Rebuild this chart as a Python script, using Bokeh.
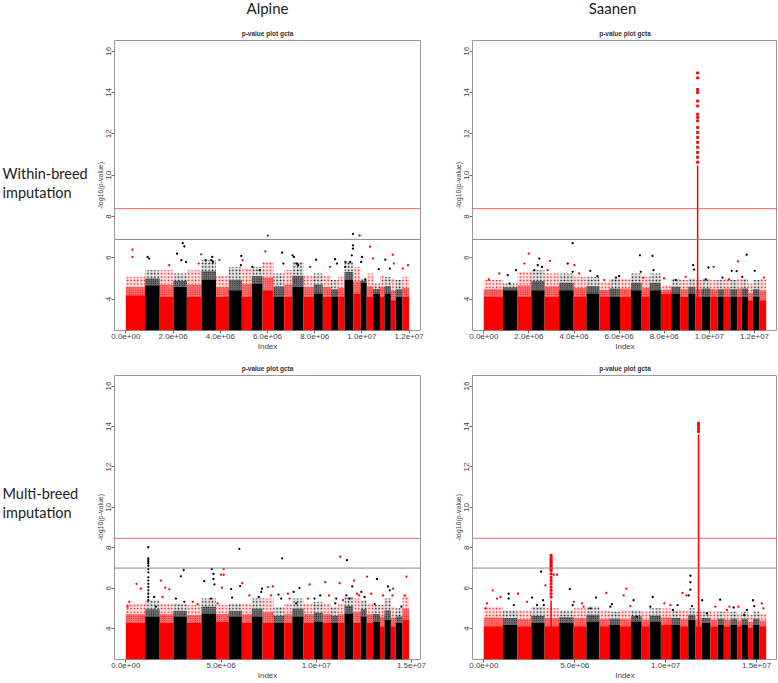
import numpy as np
from bokeh.plotting import figure
from bokeh.models import Range1d, FixedTicker, Span, Label, ColumnDataSource
from bokeh.layouts import column, row
from bokeh.embed import file_html
from bokeh.resources import INLINE

# ---------------- data ----------------
# relative SNP share of each autosome 1..29 (band widths)
chrom_share = [58, 43.5, 41.5, 40, 44, 43.5, 38.5, 39, 30, 32, 33, 32, 24.5, 33.5,
               31, 27, 24.5, 21.5, 19, 26, 22.5, 18, 19.5, 20.5, 13.5, 19, 15, 20, 20]

breeds = ["Alpine", "Saanen"]
row_titles = [["Within-breed", "imputation"], ["Multi-breed", "imputation"]]
panel_title = "p-value plot gcta"
x_title = "Index"
y_title = "-log10(p-value)"

top_xticks = [0, 2000000, 4000000, 6000000, 8000000, 10000000, 12000000]
top_xlabels = ["0.0e+00", "2.0e+06", "4.0e+06", "6.0e+06", "8.0e+06", "1.0e+07", "1.2e+07"]
bot_xticks = [0, 5000000, 10000000, 15000000]
bot_xlabels = ["0.0e+00", "5.0e+06", "1.0e+07", "1.5e+07"]
yticks = [4, 6, 8, 10, 12, 14, 16]
ylabels = ["4", "6", "8", "10", "12", "14", "16"]
y_lim = [2.48, 16.52]

# ---- Alpine, within-breed ----
tl_n = 12.0e6
tl_solid = [4.19, 4.67, 4.11, 4.59, 4.11, 4.92, 4.11, 4.43, 4.11, 4.75, 4.43, 4.11, 4.11, 4.59, 4.11,
            4.27, 4.11, 4.11, 4.11, 4.92, 4.27, 4.8, 4.11, 4.27, 4.11, 4.27, 3.95, 4.11, 4.11]
tl_fuzz = [5.08, 5.4, 5.4, 5.24, 5.4, 5.88, 5.16, 5.56, 5.48, 5.56, 5.8, 5.24, 5.4, 5.8, 5.16,
           5.24, 5.16, 4.92, 5.08, 5.8, 5.56, 5.0, 5.24, 4.75, 5.16, 5.08, 5.0, 4.92, 5.08]
tl_points = [(0.28, 6.39), (0.28, 6.04), (0.92, 6.04), (0.99, 5.96), (1.84, 5.64), (2.41, 6.71),
             (2.48, 6.55), (2.17, 6.2), (2.35, 5.88), (2.55, 5.8), (3.19, 6.17), (3.09, 5.72),
             (3.66, 6.04), (3.62, 5.88), (3.69, 5.8), (3.38, 5.88), (3.97, 5.9), (4.89, 6.09),
             (4.94, 5.88), (4.87, 5.64), (5.36, 5.56), (5.67, 5.4), (6.01, 7.07), (5.91, 6.31),
             (6.62, 6.25), (6.67, 5.72), (7.06, 6.12), (7.12, 6.04), (7.23, 5.72), (7.30, 5.64),
             (7.80, 5.56), (8.06, 5.91), (8.65, 5.56), (8.86, 5.93), (8.94, 5.72), (9.29, 5.56),
             (9.30, 5.8), (9.62, 7.15), (9.62, 6.6), (9.62, 6.44), (9.57, 6.12), (9.50, 5.8),
             (9.90, 7.08), (10.0, 6.04), (9.97, 5.8), (10.14, 4.95), (10.34, 6.54), (10.47, 5.96),
             (10.71, 5.45), (10.99, 5.91), (11.30, 6.15), (11.18, 5.48), (11.35, 5.72),
             (11.73, 5.48), (11.95, 5.64)]
tl_spikes = []
tl_lines = [8.38, 6.89]

# ---- Saanen, within-breed ----
tr_n = 12.52e6
tr_solid = [4.11, 4.43, 4.11, 4.43, 4.11, 4.43, 4.11, 4.27, 4.11, 4.11, 4.11, 4.43, 4.11, 4.43, 4.27,
            4.27, 4.11, 4.27, 4.11, 4.11, 4.11, 4.11, 4.11, 4.11, 4.11, 4.11, 3.95, 4.11, 3.95]
tr_fuzz = [4.92, 4.75, 5.32, 5.4, 5.24, 5.24, 5.08, 5.08, 4.84, 5.0, 5.0, 5.24, 5.08, 5.24, 4.67,
           5.0, 4.92, 5.0, 4.92, 5.0, 4.92, 4.92, 5.0, 4.92, 5.0, 5.0, 4.75, 4.92, 5.0]
tr_points = [(0.22, 4.95), (0.69, 5.24), (1.06, 5.16), (1.14, 4.75), (1.99, 6.2), (1.80, 5.72),
             (1.43, 5.4), (2.46, 5.96), (2.39, 5.64), (2.24, 5.4), (2.58, 5.56), (2.93, 5.85),
             (2.83, 5.4), (3.94, 6.71), (3.72, 5.72), (3.94, 5.32), (4.02, 5.64), (4.23, 5.24),
             (4.72, 5.37), (5.04, 5.11), (5.34, 4.92), (5.86, 5.04), (6.0, 5.11), (6.92, 6.12),
             (6.96, 5.32), (7.07, 5.04), (7.48, 6.09), (7.52, 5.4), (7.99, 5.0), (8.51, 4.92),
             (8.95, 5.08), (9.28, 5.64), (9.32, 5.43), (9.96, 5.53), (9.84, 4.95), (10.19, 5.56),
             (10.58, 5.04), (10.87, 4.95), (10.99, 5.37), (11.21, 5.35), (11.27, 5.83),
             (11.65, 6.15), (11.46, 5.08), (12.01, 5.37), (12.42, 5.04)]
tr_spikes = [(9.48, 10.47, [10.63, 10.87, 11.1, 11.35, 11.59, 11.83, 12.07, 12.31, 12.63, 12.8,
                            12.95, 13.35, 13.59, 14.0, 14.15, 14.71, 14.95])]
tr_lines = [8.38, 6.89]

# ---- Alpine, multi-breed ----
bl_n = 14.88e6
bl_solid = [4.28, 4.6, 4.28, 4.6, 4.28, 4.76, 4.36, 4.6, 4.28, 4.6, 4.28, 4.28, 4.28, 4.6, 4.28,
            4.36, 4.28, 4.28, 4.28, 4.76, 4.28, 4.6, 4.28, 4.36, 4.12, 4.44, 4.12, 4.28, 4.44]
bl_fuzz = [5.25, 5.41, 5.25, 5.25, 5.17, 5.49, 5.17, 5.25, 5.25, 5.49, 5.49, 5.09, 5.25, 5.49, 5.25,
           5.33, 5.25, 5.09, 5.25, 5.57, 5.49, 5.41, 5.25, 5.17, 5.17, 5.49, 5.09, 5.01, 5.65]
bl_points = [(0.56, 6.22), (0.79, 5.98), (0.18, 5.33), (0.09, 5.09),
             (1.18, 8.03), (1.18, 7.48), (1.18, 7.39), (1.18, 7.30), (1.18, 7.22), (1.18, 7.11),
             (1.18, 6.95), (1.18, 6.79), (1.18, 6.54), (1.18, 6.38), (1.18, 6.22), (1.18, 6.06),
             (1.18, 5.90), (1.18, 5.73), (1.18, 5.57), (1.18, 5.41), (1.49, 5.57), (1.58, 5.09),
             (1.84, 6.38), (2.07, 6.03), (2.28, 5.95), (1.93, 5.57),
             (3.04, 6.90), (2.89, 6.59), (2.63, 5.49), (3.07, 5.33), (3.51, 5.33), (3.77, 5.22),
             (4.51, 6.95), (4.60, 6.71), (4.60, 6.46), (4.12, 6.35), (4.65, 6.19), (4.47, 5.49),
             (5.14, 6.95), (5.00, 6.67), (5.14, 6.67), (5.05, 6.03), (4.82, 5.25),
             (5.96, 7.95), (6.00, 6.11), (5.58, 5.54), (5.53, 5.96), (6.11, 6.25), (6.49, 5.65),
             (7.15, 5.98), (7.11, 5.82), (6.98, 5.57), (7.72, 6.09), (7.46, 6.06), (7.63, 5.65),
             (8.21, 7.48), (8.02, 5.69), (8.16, 5.49), (8.51, 5.73), (8.60, 5.49),
             (9.12, 6.01), (8.81, 5.82), (8.95, 5.25), (9.65, 6.19), (9.56, 5.49),
             (9.91, 5.49), (10.21, 5.65), (10.47, 6.30), (10.67, 5.65), (11.0, 5.25), (11.05, 5.49),
             (11.26, 7.56), (11.23, 6.25), (11.40, 5.41), (11.61, 7.39), (11.89, 6.09),
             (11.58, 5.65), (11.75, 5.49), (11.98, 6.38), (12.14, 5.73), (12.25, 5.65),
             (12.37, 5.82), (12.54, 5.57), (12.67, 6.58), (12.89, 5.73), (13.19, 6.46),
             (13.07, 5.22), (13.51, 5.65), (13.77, 6.09), (13.86, 5.90), (14.04, 5.98),
             (14.0, 5.65), (14.47, 5.09), (14.74, 6.58), (14.65, 5.65)]
bl_spikes = []
bl_lines = [8.47, 7.0]

# ---- Saanen, multi-breed ----
br_n = 15.53e6
br_solid = [4.12, 4.2, 4.12, 4.28, 4.12, 4.28, 4.12, 4.36, 4.12, 4.2, 4.12, 4.36, 4.12, 4.36, 4.2,
            4.2, 4.12, 4.44, 4.12, 4.28, 4.12, 4.2, 4.12, 4.2, 4.12, 4.2, 4.04, 4.2, 4.12]
br_fuzz = [5.09, 4.93, 4.93, 5.09, 5.01, 4.93, 5.01, 5.09, 4.93, 4.85, 4.93, 4.93, 4.85, 5.01, 5.0,
           4.93, 4.93, 5.01, 4.85, 4.85, 4.85, 4.85, 4.85, 4.85, 4.76, 4.85, 4.68, 4.85, 4.76]
br_points = [(0.49, 5.9), (0.18, 5.25), (0.92, 5.57), (0.09, 5.01), (0.73, 5.49), (1.37, 5.73),
             (1.37, 5.49), (1.88, 5.73), (1.65, 5.17), (2.38, 5.33), (2.66, 5.54), (2.93, 5.17),
             (3.26, 5.41), (3.30, 5.17), (3.15, 6.82), (3.39, 6.14), (3.85, 6.67), (4.03, 6.67),
             (4.73, 5.96), (4.95, 5.33), (4.89, 5.17), (5.40, 5.25), (5.49, 5.09), (6.17, 5.54),
             (5.86, 5.01), (6.74, 5.77), (7.05, 5.22), (6.96, 5.09), (7.84, 5.98), (8.06, 5.12),
             (7.69, 5.65), (8.24, 5.41), (8.42, 4.6), (9.29, 5.57), (9.16, 5.09), (9.93, 5.25),
             (10.26, 5.17), (10.66, 5.17), (10.4, 4.93), (10.93, 5.77), (11.14, 5.65),
             (11.36, 6.62), (11.36, 6.30), (11.36, 5.93), (11.27, 5.65), (11.45, 5.12),
             (12.01, 5.41), (12.27, 4.76), (13.0, 5.44), (12.73, 5.09), (13.51, 5.09),
             (13.37, 4.93), (13.74, 5.05), (14.0, 5.09), (14.32, 4.68), (14.47, 4.93),
             (14.8, 5.41), (14.87, 5.12), (15.29, 5.25), (15.38, 5.01)]
br_spikes = [(3.70, 5.4, [5.57, 5.73, 5.9, 6.06, 6.22, 6.38, 6.54, 6.71, 6.87, 6.95, 7.03, 7.11,
                          7.19, 7.27, 7.35, 7.43, 7.52, 7.63]),
             (11.81, 13.6, [13.75, 13.9, 14.05, 14.15])]
br_lines = [8.47, 7.0]

# ---------------- drawing ----------------
RED, BLACK = "#FF0000", "#000000"
FONT = "Liberation Sans"
HEAD_FONT = "Lato"
LABEL_W = 88
LEFT_W, RIGHT_W = 352, 337
HEADER_H, TOP_H, BOT_H = 20, 335, 327


def blank(width, height):
    f = figure(width=width, height=height, output_backend="svg", toolbar_location=None,
               min_border=0, x_axis_location=None, y_axis_location=None,
               x_range=Range1d(0, 1), y_range=Range1d(0, 1))
    f.grid.visible = False
    f.outline_line_color = None
    f.background_fill_color = "white"
    f.border_fill_color = "white"
    return f


def panel(n, solid, fuzz, points, spikes, lines, xticks, xlabels, left, top):
    share = np.array(chrom_share, dtype=float)
    ends = np.cumsum(share) / share.sum() * n
    starts = np.concatenate([[0.0], ends[:-1]])
    cols = [RED if i % 2 == 0 else BLACK for i in range(len(share))]

    def color_of(x):
        i = int(np.searchsorted(ends, x, side="right"))
        return cols[min(i, len(cols) - 1)]

    p = figure(width=LEFT_W if left else RIGHT_W, height=TOP_H if top else BOT_H,
               output_backend="svg", toolbar_location=None,
               x_range=Range1d(-0.04 * n, 1.04 * n), y_range=Range1d(*y_lim),
               min_border_left=26 if left else 32, min_border_right=20 if left else 0,
               min_border_top=20, min_border_bottom=25 if top else 20,
               title=panel_title)
    p.title.align = "center"
    p.title.text_font = FONT
    p.title.text_font_size = "6.5px"
    p.title.text_font_style = "bold"
    p.title.text_color = "#333333"
    p.title.standoff = 7

    y0 = y_lim[0]
    solid_a = np.array(solid)
    fuzz_a = np.array(fuzz)
    dense_top = solid_a + 0.45 * (fuzz_a - solid_a)   # where the speckles start thinning out
    src = ColumnDataSource(dict(left=starts, right=ends, bottom=[y0] * len(share), top=solid_a,
                                mid=dense_top, fuzz=fuzz_a, color=cols))
    # sparse speckles (upper part of each band)
    p.quad(left="left", right="right", bottom="mid", top="fuzz", source=src,
           fill_color="color", fill_alpha=0.10, line_color=None,
           hatch_pattern="dot", hatch_color="color", hatch_scale=3.4, hatch_weight=1.1, hatch_alpha=0.9)
    # dense speckles
    p.quad(left="left", right="right", bottom="top", top="mid", source=src,
           fill_color="color", fill_alpha=0.55, line_color=None,
           hatch_pattern="dot", hatch_color="color", hatch_scale=2.2, hatch_weight=1.2, hatch_alpha=1.0)
    # solid lower part
    p.quad(left="left", right="right", bottom="bottom", top="top", source=src,
           fill_color="color", line_color=None)

    for sx, stop, dots in spikes:
        xs = sx * 1e6
        c = color_of(xs)
        p.segment(x0=[xs], y0=[y0], x1=[xs], y1=[stop], line_color=c, line_width=1.5)
        p.scatter(x=[xs] * len(dots), y=dots, size=2.0, marker="square", color=c)

    px = [a * 1e6 for a, b in points]
    py = [b for a, b in points]
    pc = [color_of(x) for x in px]
    p.scatter(x=px, y=py, size=2.3, color=pc, line_color=None)

    p.add_layout(Span(location=lines[0], dimension="width", line_color="#EE4444", line_width=1, line_alpha=0.8))
    p.add_layout(Span(location=lines[1], dimension="width", line_color="#888888", line_width=1))

    p.grid.visible = False
    p.outline_line_color = "#9A9A9A"
    p.outline_line_width = 1
    p.background_fill_color = "white"
    p.border_fill_color = "white"

    p.xaxis.ticker = FixedTicker(ticks=xticks)
    p.xaxis.major_label_overrides = {int(t): l for t, l in zip(xticks, xlabels)}
    p.yaxis.ticker = FixedTicker(ticks=yticks)
    p.yaxis.major_label_overrides = {int(t): l for t, l in zip(yticks, ylabels)}
    p.yaxis.major_label_orientation = "vertical"
    for ax in (p.xaxis, p.yaxis):
        ax.axis_line_color = None
        ax.major_tick_line_color = "#707070"
        ax.major_tick_out = 3
        ax.major_tick_in = 0
        ax.minor_tick_line_color = None
        ax.major_label_text_font = FONT
        ax.major_label_text_font_size = "8px"
        ax.major_label_text_color = "#444444"
        ax.major_label_standoff = 0
        ax.axis_label_text_font = FONT
        ax.axis_label_text_font_style = "normal"
        ax.axis_label_text_color = "#444444"
        ax.axis_label_standoff = 0
    p.xaxis.axis_label = x_title
    p.xaxis.axis_label_text_font_size = "8px"
    p.yaxis.axis_label = y_title
    p.yaxis.axis_label_text_font_size = "7px"
    return p


# header with breed names
header = blank(LABEL_W + LEFT_W + RIGHT_W, HEADER_H)
for txt, xc in zip(breeds, [267, 612]):
    header.add_layout(Label(x=xc, y=13, x_units="screen", y_units="screen", text=txt,
                            text_font=HEAD_FONT, text_font_size="15px", text_align="center",
                            text_baseline="middle", text_color="#222222"))

# row titles (their frames are aligned with the panel frames of the same row)
lab_top = blank(LABEL_W, TOP_H)
for txt, yy in zip(row_titles[0], [157, 138]):
    lab_top.add_layout(Label(x=2, y=yy, x_units="screen", y_units="screen", text=txt,
                             text_font=HEAD_FONT, text_font_size="14.5px", text_align="left",
                             text_baseline="middle", text_color="#222222"))
lab_bot = blank(LABEL_W, BOT_H)
for txt, yy in zip(row_titles[1], [166, 147]):
    lab_bot.add_layout(Label(x=2, y=yy, x_units="screen", y_units="screen", text=txt,
                             text_font=HEAD_FONT, text_font_size="14.5px", text_align="left",
                             text_baseline="middle", text_color="#222222"))

tl = panel(tl_n, tl_solid, tl_fuzz, tl_points, tl_spikes, tl_lines, top_xticks, top_xlabels, True, True)
tr = panel(tr_n, tr_solid, tr_fuzz, tr_points, tr_spikes, tr_lines, top_xticks, top_xlabels, False, True)
bl = panel(bl_n, bl_solid, bl_fuzz, bl_points, bl_spikes, bl_lines, bot_xticks, bot_xlabels, True, False)
br = panel(br_n, br_solid, br_fuzz, br_points, br_spikes, br_lines, bot_xticks, bot_xlabels, False, False)

layout = column(header, row(lab_top, tl, tr), row(lab_bot, bl, br))
open("out.html", "w").write(file_html(layout, INLINE))
